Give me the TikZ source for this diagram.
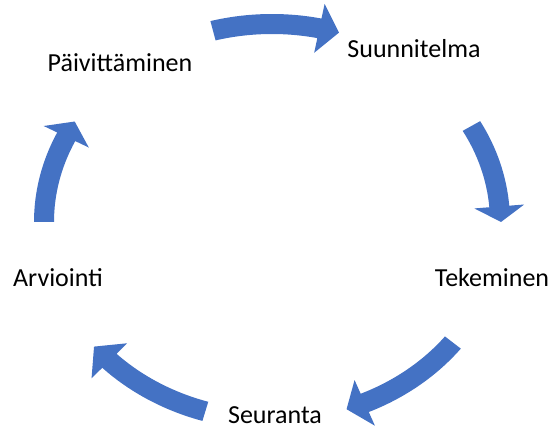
\documentclass[tikz,border=0pt]{standalone}
\usepackage{fontspec}
\setmainfont{Carlito}
\usepackage{xcolor}
\definecolor{arrowblue}{HTML}{4472C4}

\begin{document}
\begin{tikzpicture}[x=1pt, y=1pt,
        cycletext/.style={anchor=base, font=\fontsize{26}{30}\selectfont},
        cyclearrow/.style={fill=arrowblue}]
        \useasboundingbox (0,0) rectangle (554,-430);
        \coordinate (c) at (272,-222);
        \node [cycletext] (suunnitelma) at (414,-58) {Suunnitelma};
        \node [cycletext] (tekeminen) at (492,-287) {Tekeminen};
        \node [cycletext] (seuranta) at (275,-423) {Seuranta};
        \node [cycletext] (arviointi) at (58,-287) {Arviointi};
        \node [cycletext] (paivittaminen) at (120,-72) {Päivittäminen};
        % tail / head base / tip angles on the ellipse round (c)
        \foreach \t/\b/\h in {105/78/73, 29/4.5/0, -37.5/-66/-71, -107/-135.5/-141, 180/154.5/149.5}{
            \fill [cyclearrow] ([shift={(c)}] \t:238 and 208)
                arc [start angle=\t, end angle=\b, x radius=238, y radius=208]
                -- ([shift={(c)}] \b:253 and 223) -- ([shift={(c)}] \h:229 and 198)
                -- ([shift={(c)}] \b:203 and 173) -- ([shift={(c)}] \b:218 and 188)
                arc [start angle=\b, end angle=\t, x radius=218, y radius=188] -- cycle;
        }
    \end{tikzpicture}
\end{document}
